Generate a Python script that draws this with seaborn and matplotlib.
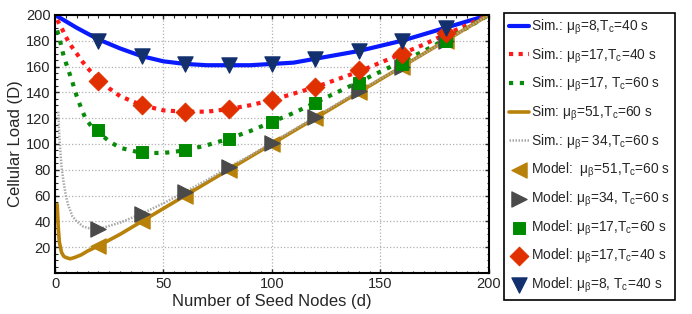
import numpy as np
import pandas as pd
import matplotlib
matplotlib.use('Agg')
import matplotlib.pyplot as plt
from matplotlib.ticker import MultipleLocator
import seaborn as sns

# simulation curves
d_blue = [0, 10, 20, 30, 40, 50, 60, 70, 80, 90, 100, 110, 120, 130, 140, 150, 160, 170, 180, 190, 200]
sim_blue = [200, 190, 181, 174, 168, 164, 162, 161, 161, 161, 162, 163, 166, 169, 172, 176, 180, 185, 190, 195, 200]

d_red = [1, 3, 5, 7, 10, 13, 16, 20, 25, 30, 40, 50, 60, 70, 80, 90, 100, 110, 120, 130, 140, 150, 160, 170, 180, 190, 200]
sim_red = [196, 190, 183, 177, 170, 163, 157, 150, 143, 137, 130, 126, 125, 125, 127, 130, 134, 139, 144, 150, 156, 163, 170, 177, 185, 192, 200]

d_green = [1, 2, 3, 4, 6, 8, 10, 12, 14, 17, 20, 25, 30, 40, 50, 60, 70, 80, 90, 100, 110, 120, 130, 140, 150, 160, 170, 180, 190, 200]
sim_green = [188, 182, 175, 168, 158, 148, 137, 128, 120, 113, 109, 102, 97, 93, 93, 95, 99, 104, 110, 117, 124, 132, 140, 148, 156, 164, 172, 181, 190, 200]

d_gold = [1, 1.5, 2, 3, 4, 5, 7, 9, 12, 15, 20, 30, 40, 60, 80, 100, 120, 140, 160, 180, 200]
sim_gold = [53, 35, 24, 16, 13, 12, 11, 12, 14, 17, 21, 30, 40, 60, 80, 100, 120, 140, 160, 180, 200]

d_gray = [1.5, 2, 3, 4, 5, 6, 8, 10, 13, 17, 20, 30, 40, 50, 60, 70, 80, 90, 100, 120, 140, 160, 180, 200]
sim_gray = [125, 105, 82, 70, 60, 53, 44, 40, 36, 34, 34, 39, 46, 54, 63, 72, 82, 91, 101, 121, 141, 160, 180, 200]

# model points
d_model = [20, 40, 60, 80, 100, 120, 140, 160, 180]
mod_gold = [21, 40, 60, 80, 100, 120, 140, 160, 180]
mod_gray = [34, 46, 63, 82, 101, 121, 141, 160, 180]
mod_green = [111, 94, 95, 104, 117, 132, 147, 162, 180]
mod_red = [149, 130, 125, 127, 134, 144, 157, 170, 186]
mod_blue = [180, 168, 162, 161, 162, 166, 172, 180, 190]

sns.set_style('ticks')
plt.rcParams['font.family'] = ['Liberation Sans', 'DejaVu Sans']
plt.rcParams['mathtext.fontset'] = 'custom'
plt.rcParams['mathtext.rm'] = 'Liberation Sans'
plt.rcParams['mathtext.it'] = 'Liberation Sans'

fig = plt.figure(figsize=(6.92, 3.14), dpi=100)
ax = fig.add_axes([0.0795, 0.1306, 0.627, 0.822])

c_blue = '#0a1aff'
c_red = '#ff1a1a'
c_green = '#0a8a0a'
c_gold = '#b8820a'
c_gray = '#a8a8a8'

sns.lineplot(x=d_blue, y=sim_blue, ax=ax, color=c_blue, lw=3,
             label=r'Sim.: μ$_\mathrm{β}$=8,T$_\mathrm{c}$=40 s')
sns.lineplot(x=d_red, y=sim_red, ax=ax, color=c_red, lw=3,
             label=r'Sim.: μ$_\mathrm{β}$=17,T$_\mathrm{c}$=40 s')
ax.lines[-1].set_linestyle((0, (1, 1.3)))
sns.lineplot(x=d_green, y=sim_green, ax=ax, color=c_green, lw=3,
             label=r'Sim.: μ$_\mathrm{β}$=17, T$_\mathrm{c}$=60 s')
ax.lines[-1].set_linestyle((0, (1, 1.6)))
sns.lineplot(x=d_gold, y=sim_gold, ax=ax, color=c_gold, lw=2.6,
             label=r'Sim: μ$_\mathrm{β}$=51,T$_\mathrm{c}$=60 s')
sns.lineplot(x=d_gray, y=sim_gray, ax=ax, color=c_gray, lw=1.8,
             label=r'Sim.: μ$_\mathrm{β}$= 34,T$_\mathrm{c}$=60 s')
ax.lines[-1].set_linestyle((0, (0.6, 0.6)))

sns.scatterplot(x=d_model, y=mod_gold, ax=ax, marker='<', s=120, color=c_gold,
                edgecolor=c_gold, zorder=5, label=r'Model:  μ$_\mathrm{β}$=51,T$_\mathrm{c}$=60 s')
sns.scatterplot(x=d_model, y=mod_gray, ax=ax, marker='>', s=120, color='#4a4a4a',
                edgecolor='#4a4a4a', zorder=5, label=r'Model: μ$_\mathrm{β}$=34, T$_\mathrm{c}$=60 s')
sns.scatterplot(x=d_model, y=mod_green, ax=ax, marker='s', s=75, color='#008a00',
                edgecolor='#008a00', zorder=5, label=r'Model: μ$_\mathrm{β}$=17,T$_\mathrm{c}$=60 s')
sns.scatterplot(x=d_model, y=mod_red, ax=ax, marker='D', s=90, color='#e03000',
                edgecolor='#e03000', zorder=5, label=r'Model: μ$_\mathrm{β}$=17,T$_\mathrm{c}$=40 s')
sns.scatterplot(x=d_model, y=mod_blue, ax=ax, marker='v', s=120, color='#13306e',
                edgecolor='#13306e', zorder=5, label=r'Model: μ$_\mathrm{β}$=8, T$_\mathrm{c}$=40 s')

ax.set_xlim(0, 200)
ax.set_ylim(0, 200)
ax.set_xticks([0, 50, 100, 150, 200])
ax.set_yticks([20, 40, 60, 80, 100, 120, 140, 160, 180, 200])
ax.xaxis.set_minor_locator(MultipleLocator(5))
ax.yaxis.set_minor_locator(MultipleLocator(5))
ax.tick_params(which='both', direction='in', top=True, right=True, labelsize=10.5, pad=3)
ax.tick_params(which='major', length=3, width=1)
ax.tick_params(which='minor', length=1.8, width=0.8)
ax.grid(True, which='major', linestyle=':', color='#b0b0b0', lw=0.9)
for s in ax.spines.values():
    s.set_linewidth(1.5)
    s.set_color('black')
ax.set_xlabel('Number of Seed Nodes (d)', fontsize=12, labelpad=2)
ax.set_ylabel('Cellular Load (D)', fontsize=12, labelpad=2)

leg = ax.legend(loc='upper left', bbox_to_anchor=(0.728, 0.959), bbox_transform=fig.transFigure,
                fontsize=9.9, frameon=True, fancybox=False, edgecolor='black', framealpha=1,
                labelspacing=0.68, handlelength=1.45, handletextpad=0.2, borderpad=0.35,
                borderaxespad=0)
leg.get_frame().set_linewidth(1.2)

fig.savefig('out.png', dpi=100)
